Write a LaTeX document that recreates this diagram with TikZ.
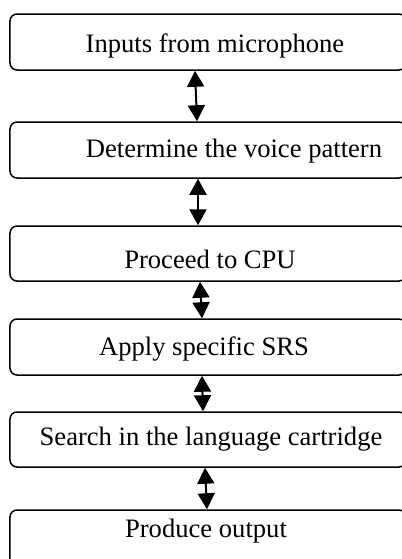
\documentclass[tikz,border=0pt]{standalone}
\usepackage{fontspec}
\setmainfont{Liberation Serif}
\usetikzlibrary{arrows.meta}
\begin{document}
\begin{tikzpicture}[x=0.5pt,y=-0.5pt,
  box/.style={draw, line width=0.75pt, rounded corners=3.5pt, minimum width=198pt, inner sep=0pt},
  lbl/.style={anchor=base, inner sep=0pt, font=\fontsize{13.3}{16}\selectfont},
  arr/.style={line width=1pt, {Triangle[length=8pt,width=8.5pt]}-{Triangle[length=8pt,width=8.5pt]}}]
\useasboundingbox (0,0) rectangle (402,559);
\node[box, minimum height=28pt] (b1) at (208,42) {};
\node[box, minimum height=28pt] (b2) at (208,150) {};
\node[box, minimum height=27.5pt] (b3) at (208,253.5) {};
\node[box, minimum height=28pt] (b4) at (208,347) {};
\node[box, minimum height=27.5pt] (b5) at (208,439.5) {};
\node[box, minimum height=28pt] (b6) at (208,538) {};
\node[lbl] (t1) at (215,52) {Inputs from microphone};
\node[lbl] (t2) at (234,157) {Determine the voice pattern};
\node[lbl] (t3) at (210,268) {Proceed to CPU};
\node[lbl] (t4) at (204,355) {Apply specific SRS};
\node[lbl] (t5) at (211,445) {Search in the language cartridge};
\node[lbl] (t6) at (206,537) {Produce output};
\draw[arr] ([xshift=-6.5pt]b1.south) -- ([xshift=-5.5pt]b2.north);
\draw[arr] ([xshift=-5pt]b2.south) -- ([xshift=-5pt]b3.north);
\draw[arr] ([xshift=-4pt]b3.south) -- ([xshift=-3pt]b4.north);
\draw[arr] ([xshift=-3pt]b4.south) -- ([xshift=-2.5pt]b5.north);
\draw[arr] ([xshift=-1.5pt]b5.south) -- ([xshift=-0.5pt]b6.north);
\end{tikzpicture}
\end{document}
